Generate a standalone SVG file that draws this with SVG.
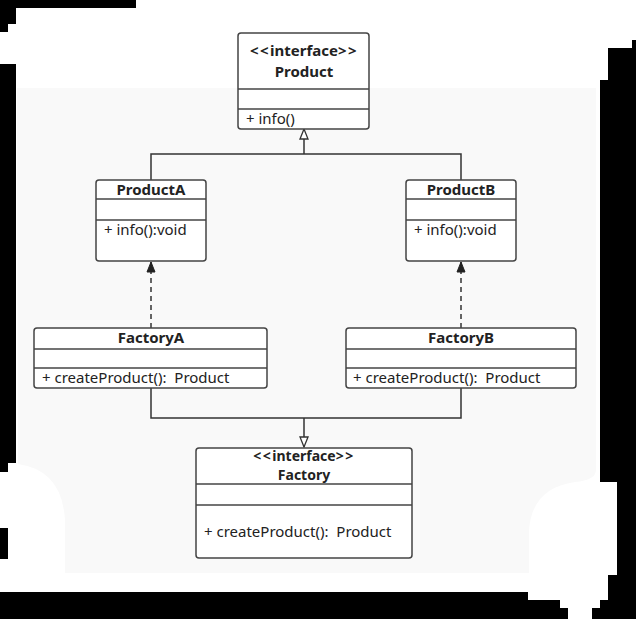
<svg xmlns="http://www.w3.org/2000/svg" width="636" height="619" viewBox="0 0 636 619">
  <style>
    .box { fill: #ffffff; stroke: #444444; stroke-width: 1.5; }
    .div { stroke: #444444; stroke-width: 1.5; }
    .t { font-family: "Noto Sans", "Open Sans", sans-serif; font-size: 15px; fill: #222222; }
    .b { font-weight: bold; text-anchor: middle; }
    .sm { font-size: 14px; }
    .ab { letter-spacing: 1.5px; }
    .edge { fill: none; stroke: #333333; stroke-width: 1.5; }
    .dash { stroke-dasharray: 5 4; }
  </style>
  <defs>
    <marker id="hollow" viewBox="0 0 12 12" refX="11" refY="6" markerWidth="12" markerHeight="12" markerUnits="userSpaceOnUse" orient="auto">
      <path d="M1,2 L11,6 L1,10 Z" fill="#ffffff" stroke="#333333" stroke-width="1.3"/>
    </marker>
    <marker id="solid" viewBox="0 0 12 12" refX="11" refY="6" markerWidth="12" markerHeight="12" markerUnits="userSpaceOnUse" orient="auto">
      <path d="M1,2 L11,6 L1,10 Z" fill="#222222" stroke="#222222" stroke-width="1"/>
    </marker>
  </defs>

  <!-- backdrop -->
  <g id="backdrop">
    <rect x="0" y="0" width="636" height="619" fill="#ffffff"/>
    <path d="M0,0 H136 V8 H16 V24 H8 V32 H0 Z" fill="#000000"/>
    <path d="M0,64 H16 V463 H8 V472 H0 Z" fill="#000000"/>
    <rect x="0" y="528" width="8" height="31" fill="#000000"/>
    <path d="M0,592 H528 V600 H560 V608 H568 V619 H0 Z" fill="#000000"/>
    <path d="M592,608 H600 V600 H608 V575 H617 V482 H600 V80 H608 V48 H632 V40 H636 V619 H592 Z" fill="#000000"/>
    <path d="M17,88 H596 V470 Q596,480 575,482 Q532,488 529,530 V573 H65 V520 Q62,470 18,464 Z" fill="#f9f9f9"/>
  </g>

  <!-- connectors -->
  <g id="connectors">
    <path class="edge" d="M151,180 V154 H461 V180"/>
    <path class="edge" d="M304,154 V129" marker-end="url(#hollow)"/>
    <path class="edge dash" d="M151,328 V262" marker-end="url(#solid)"/>
    <path class="edge dash" d="M461,328 V262" marker-end="url(#solid)"/>
    <path class="edge" d="M151,388 V418 H461 V388"/>
    <path class="edge" d="M304,418 V447" marker-end="url(#hollow)"/>
  </g>

  <!-- Product interface -->
  <g id="product">
    <rect class="box" x="238" y="33" width="131" height="96" rx="3"/>
    <line class="div" x1="238" y1="89" x2="369" y2="89"/>
    <line class="div" x1="238" y1="109" x2="369" y2="109"/>
    <text class="t b" x="304" y="56"><tspan class="ab">&lt;&lt;</tspan>interface<tspan class="ab">&gt;&gt;</tspan></text>
    <text class="t b" x="304" y="77">Product</text>
    <text class="t" x="246" y="124">+ info()</text>
  </g>

  <!-- ProductA -->
  <g id="productA">
    <rect class="box" x="96" y="180" width="110" height="81" rx="3"/>
    <line class="div" x1="96" y1="199" x2="206" y2="199"/>
    <line class="div" x1="96" y1="220" x2="206" y2="220"/>
    <text class="t b" x="151" y="195">ProductA</text>
    <text class="t" x="104" y="235">+ info():void</text>
  </g>

  <!-- ProductB -->
  <g id="productB">
    <rect class="box" x="406" y="180" width="110" height="81" rx="3"/>
    <line class="div" x1="406" y1="199" x2="516" y2="199"/>
    <line class="div" x1="406" y1="220" x2="516" y2="220"/>
    <text class="t b" x="461" y="195">ProductB</text>
    <text class="t" x="414" y="235">+ info():void</text>
  </g>

  <!-- FactoryA -->
  <g id="factoryA">
    <rect class="box" x="34" y="328" width="233" height="60" rx="3"/>
    <line class="div" x1="34" y1="349" x2="267" y2="349"/>
    <line class="div" x1="34" y1="368" x2="267" y2="368"/>
    <text class="t b" x="151" y="343">FactoryA</text>
    <text class="t" x="42" y="383">+ createProduct():&#160; Product</text>
  </g>

  <!-- FactoryB -->
  <g id="factoryB">
    <rect class="box" x="346" y="328" width="230" height="60" rx="3"/>
    <line class="div" x1="346" y1="349" x2="576" y2="349"/>
    <line class="div" x1="346" y1="368" x2="576" y2="368"/>
    <text class="t b" x="461" y="343">FactoryB</text>
    <text class="t" x="353" y="383">+ createProduct():&#160; Product</text>
  </g>

  <!-- Factory interface -->
  <g id="factory">
    <rect class="box" x="196" y="448" width="216" height="110" rx="3"/>
    <line class="div" x1="196" y1="484" x2="412" y2="484"/>
    <line class="div" x1="196" y1="505" x2="412" y2="505"/>
    <text class="t b sm" x="304" y="461"><tspan class="ab">&lt;&lt;</tspan>interface<tspan class="ab">&gt;&gt;</tspan></text>
    <text class="t b sm" x="304" y="480">Factory</text>
    <text class="t" x="204" y="537">+ createProduct():&#160; Product</text>
  </g>
</svg>
